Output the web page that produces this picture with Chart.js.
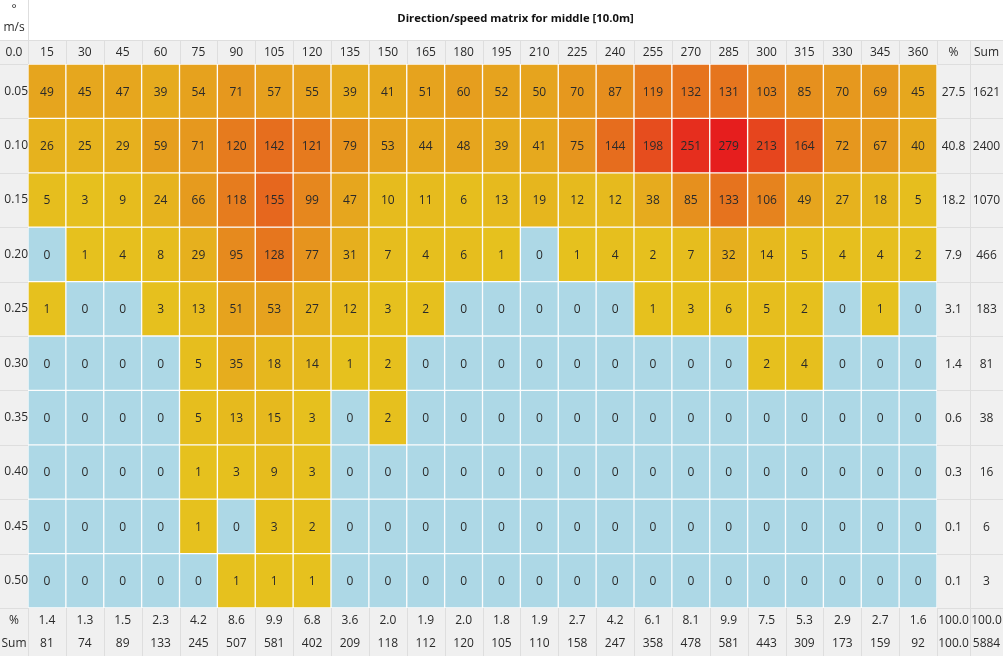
<!DOCTYPE html>
<html><head><meta charset="utf-8">
<script src="https://cdn.jsdelivr.net/npm/chart.js@4/dist/chart.umd.min.js"></script>
<style>html,body{margin:0;padding:0;background:#fff;overflow:hidden}</style>
</head><body>
<canvas id="c" width="1003" height="656"></canvas>
<script>
const chartTitle = 'Direction/speed matrix for middle [10.0m]';
const directions = ['15','30','45','60','75','90','105','120','135','150','165','180','195','210','225','240','255','270','285','300','315','330','345','360'];
const speeds = ['0.05','0.10','0.15','0.20','0.25','0.30','0.35','0.40','0.45','0.50'];
const v005 = [49,45,47,39,54,71,57,55,39,41,51,60,52,50,70,87,119,132,131,103,85,70,69,45];
const v010 = [26,25,29,59,71,120,142,121,79,53,44,48,39,41,75,144,198,251,279,213,164,72,67,40];
const v015 = [5,3,9,24,66,118,155,99,47,10,11,6,13,19,12,12,38,85,133,106,49,27,18,5];
const v020 = [0,1,4,8,29,95,128,77,31,7,4,6,1,0,1,4,2,7,32,14,5,4,4,2];
const v025 = [1,0,0,3,13,51,53,27,12,3,2,0,0,0,0,0,1,3,6,5,2,0,1,0];
const v030 = [0,0,0,0,5,35,18,14,1,2,0,0,0,0,0,0,0,0,0,2,4,0,0,0];
const v035 = [0,0,0,0,5,13,15,3,0,2,0,0,0,0,0,0,0,0,0,0,0,0,0,0];
const v040 = [0,0,0,0,1,3,9,3,0,0,0,0,0,0,0,0,0,0,0,0,0,0,0,0];
const v045 = [0,0,0,0,1,0,3,2,0,0,0,0,0,0,0,0,0,0,0,0,0,0,0,0];
const v050 = [0,0,0,0,0,1,1,1,0,0,0,0,0,0,0,0,0,0,0,0,0,0,0,0];
const rowPercent = ['27.5','40.8','18.2','7.9','3.1','1.4','0.6','0.3','0.1','0.1'];
const rowSum = ['1621','2400','1070','466','183','81','38','16','6','3'];
const colPercent = ['1.4','1.3','1.5','2.3','4.2','8.6','9.9','6.8','3.6','2.0','1.9','2.0','1.8','1.9','2.7','4.2','6.1','8.1','9.9','7.5','5.3','2.9','2.7','1.6'];
const colSum = ['81','74','89','133','245','507','581','402','209','118','112','120','105','110','158','247','358','478','581','443','309','173','159','92'];
const totalPercentRow = ['100.0','100.0'];
const totalSumRow = ['100.0','5884'];
const cornerTop = ['°','m/s'];
const cornerHeader = '0.0';
const extraHeaders = ['%','Sum'];

const rows = [v005,v010,v015,v020,v025,v030,v035,v040,v045,v050];
const maxVal = Math.max(...rows.flat());
const FONT = '"Open Sans", "Noto Sans", sans-serif';
const TXT = '#2a2a2a';
const GRAY = '#f0f0f0';
const LINE = '#dedede';

function cellColor(v){
  if (v === 0) return '#add8e6';
  const h = 49 * (1 - v / maxVal);
  return `hsl(${h.toFixed(1)}, 80%, 51%)`;
}

const tablePlugin = {
  id: 'tablePlugin',
  beforeDraw(chart){
    const {ctx, chartArea: a, width, height} = chart;
    const xs = chart.scales.x;
    ctx.save();
    ctx.fillStyle = GRAY;
    ctx.fillRect(0,0,width,height);
    ctx.fillStyle = '#ffffff';
    ctx.fillRect(0,0,width,xs.top);
    ctx.strokeStyle = LINE; ctx.lineWidth = 1;
    ctx.beginPath();
    ctx.moveTo(a.left+0.5,0); ctx.lineTo(a.left+0.5,xs.top);
    ctx.moveTo(0,xs.top+0.5); ctx.lineTo(width,xs.top+0.5);
    ctx.stroke();
    ctx.restore();
  },
  afterDatasetsDraw(chart){
    const {ctx, chartArea: a, width, height} = chart;
    const xs = chart.scales.x, ys = chart.scales.y;
    const colW = (width - a.right) / 2;
    ctx.save();
    ctx.strokeStyle = LINE; ctx.lineWidth = 1;
    ctx.beginPath();
    for (let i=0;i<=directions.length;i++){
      const x = Math.round(xs.getPixelForValue(i-0.5))+0.5;
      ctx.moveTo(x, xs.top); ctx.lineTo(x, a.top);
      ctx.moveTo(x, a.bottom); ctx.lineTo(x, height);
    }
    const xr1 = Math.round(a.right + colW)+0.5;
    ctx.moveTo(xr1, xs.top); ctx.lineTo(xr1, height);
    for (let r=0;r<=speeds.length;r++){
      const y = Math.round(ys.getPixelForValue(r))+0.5;
      ctx.moveTo(0,y); ctx.lineTo(a.left,y);
      ctx.moveTo(a.right,y); ctx.lineTo(width,y);
    }
    ctx.stroke();
    const yb = (a.bottom + height)/2;

    ctx.textAlign = 'center'; ctx.textBaseline = 'middle';
    ctx.fillStyle = TXT;
    ctx.font = '12px ' + FONT;
    chart.data.datasets.forEach((ds, r) => {
      const meta = chart.getDatasetMeta(r);
      meta.data.forEach((bar, c) => {
        ctx.fillText(String(rows[r][c]), bar.x, (bar.y + bar.base)/2 + 1);
      });
    });
    const hy = (xs.top + a.top)/2 + 1;
    ctx.fillText(extraHeaders[0], a.right + colW/2, hy);
    ctx.fillText(extraHeaders[1], a.right + colW*1.5, hy);
    speeds.forEach((s, r) => {
      const y = ys.getPixelForValue(r + 0.5) + 1;
      ctx.fillText(rowPercent[r], a.right + colW/2, y);
      ctx.fillText(rowSum[r], a.right + colW*1.5, y);
    });
    const y1 = (a.bottom + yb)/2 + 1, y2 = (yb + height)/2;
    ctx.fillText(extraHeaders[0], a.left/2, y1);
    ctx.fillText(extraHeaders[1], a.left/2, y2);
    directions.forEach((d, c) => {
      const x = xs.getPixelForValue(c);
      ctx.fillText(colPercent[c], x, y1);
      ctx.fillText(colSum[c], x, y2);
    });
    ctx.fillText(totalPercentRow[0], a.right + colW/2, y1);
    ctx.fillText(totalPercentRow[1], a.right + colW*1.5, y1);
    ctx.fillText(totalSumRow[0], a.right + colW/2, y2);
    ctx.fillText(totalSumRow[1], a.right + colW*1.5, y2);
    ctx.fillText(cornerHeader, a.left/2, hy);
    ctx.fillText(cornerTop[0], a.left/2, xs.top*0.25);
    ctx.fillText(cornerTop[1], a.left/2, xs.top*0.7);
    ctx.font = 'bold 11.3px ' + FONT;
    ctx.fillStyle = '#111';
    ctx.fillText(chartTitle, (a.left + width)/2, xs.top*0.47);
    ctx.restore();
  }
};

new Chart(document.getElementById('c'), {
  type: 'bar',
  data: {
    labels: directions,
    datasets: speeds.map((s, r) => ({
      label: s,
      data: directions.map(() => [r, r + 1]),
      backgroundColor: rows[r].map(cellColor),
      borderColor: 'rgba(255,255,255,0.8)',
      borderWidth: 1,
      borderSkipped: false,
      barPercentage: 1,
      categoryPercentage: 1,
      grouped: false
    }))
  },
  options: {
    responsive: false,
    animation: false,
    layout: { padding: { top: 40, right: 66, bottom: 48, left: 0 } },
    plugins: { legend: { display: false }, tooltip: { enabled: false }, title: { display: false } },
    scales: {
      x: {
        type: 'category', position: 'top',
        grid: { display: false, drawTicks: false }, border: { display: false },
        ticks: { color: TXT, font: { family: FONT, size: 12 }, maxRotation: 0, autoSkip: false, padding: 4 },
        afterFit(scale){ scale.height = 24; }
      },
      y: {
        type: 'linear', min: 0, max: 10, reverse: true,
        grid: { display: false, drawTicks: false }, border: { display: false },
        afterBuildTicks(scale){ scale.ticks = speeds.map((_, i) => ({ value: i + 0.5 })); },
        ticks: { color: TXT, font: { family: FONT, size: 12 }, autoSkip: false, padding: 0, crossAlign: 'center',
          callback: (v) => speeds[Math.floor(v)] },
        afterFit(scale){ scale.width = 28; }
      }
    }
  },
  plugins: [tablePlugin]
});
</script>
</body></html>
